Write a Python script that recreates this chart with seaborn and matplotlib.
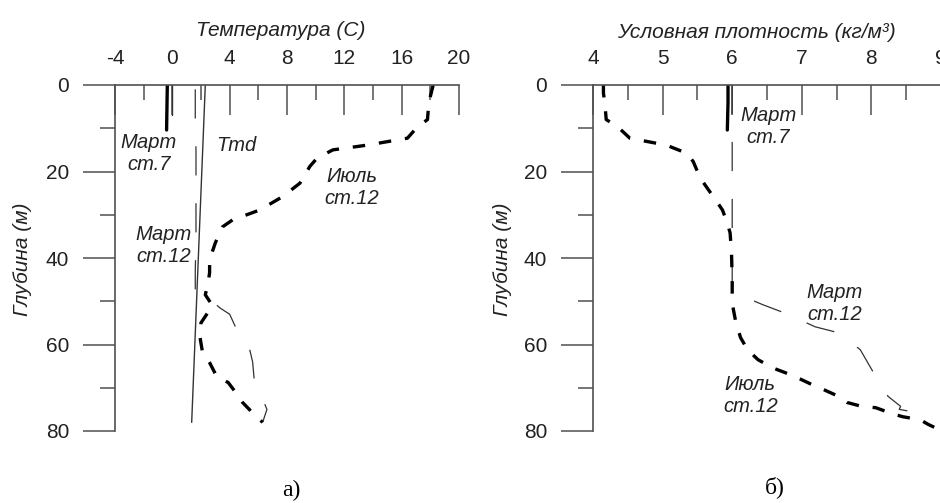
import numpy as np
import pandas as pd
import matplotlib
matplotlib.use("Agg")
import matplotlib.pyplot as plt
import seaborn as sns

# Left panel: temperature profiles (depth in m, temperature in C)
m7_depth = [0, 4, 10.4]
m7_temp = [-0.35, -0.37, -0.4]
m7b_depth = [0, 7]
m7b_temp = [0.0, 0.0]

m12_depth = [1, 8, 15, 22, 30, 36, 43, 47.6, 48.5, 50, 51.5, 53, 55.9, 58, 61.2, 64, 67.7, 71, 75, 78]
m12_temp = [1.6, 1.6, 1.65, 1.65, 1.65, 1.65, 1.6, 1.6, 2.2, 2.8, 3.3, 4.0, 4.4, 5.0, 5.4, 5.6, 5.7, 6.1, 6.6, 6.3]

jul_depth = [0, 4, 8, 9.7, 12.3, 13.9, 15, 16.9, 18.8, 22.7, 25.8, 28.9, 31.2, 32.8, 36.5, 40.4,
             43.4, 45.7, 48.5, 51, 55, 57.7, 61.7, 64.2, 67.4, 68.8, 71, 73.4, 75.8, 78]
jul_temp = [18.2, 17.9, 17.8, 17.1, 16.4, 13.6, 11.2, 10.1, 9.6, 8.9, 7.7, 6.1, 4.2, 3.5, 3.0, 2.6,
            2.6, 2.5, 2.3, 2.8, 2.0, 1.9, 2.1, 2.6, 3.1, 3.9, 4.4, 4.9, 5.6, 6.3]

tmd_depth = [0, 78]
tmd_temp = [2.3, 1.35]

# Right panel: conditional density profiles (kg/m3)
dm7_depth = [0, 4, 10.4]
dm7_sig = [5.94, 5.94, 5.93]

dm12_depth = [0, 7, 15, 22, 29, 34, 40, 45.7, 48.5, 50.8, 53, 55.9, 57.3, 61.2, 66.5, 72, 74.3, 75, 75.5, 77]
dm12_sig = [6.0, 6.0, 6.0, 6.0, 6.0, 6.0, 6.0, 6.0, 6.1, 6.44, 6.8, 7.19, 7.53, 7.84, 8.03, 8.24, 8.42, 8.4, 8.57, 8.7]

djul_depth = [0, 1.9, 4.2, 8, 9.6, 12.3, 13.5, 14.2, 15.8, 17.7, 21.5, 23.8, 27, 28.9, 31.9, 34.2, 38.8,
              45, 48, 51.3, 54.7, 58.4, 61.2, 63.5, 65.4, 66.5, 67.7, 69.3, 70.4, 72, 73.4, 74.4, 74.6,
              76, 76.7, 77.4, 78.5, 79.5]
djul_sig = [4.15, 4.15, 4.17, 4.19, 4.35, 4.53, 4.92, 5.1, 5.35, 5.44, 5.54, 5.64, 5.78, 5.86, 5.93, 5.97, 5.99,
            6.0, 6.0, 6.01, 6.05, 6.12, 6.22, 6.37, 6.58, 6.76, 6.94, 7.15, 7.31, 7.53, 7.65, 7.88, 8.06,
            8.3, 8.45, 8.7, 8.82, 8.95]

sns.set_theme(style="white")
plt.rcParams['font.family'] = ['Liberation Sans', 'DejaVu Sans']
plt.rcParams['lines.scale_dashes'] = False
plt.rcParams['axes.unicode_minus'] = False

W, H = 940, 503
fig = plt.figure(figsize=(W / 100, H / 100), dpi=100)
ax1 = fig.add_axes([115 / W, 1 - 431 / H, 344 / W, 346 / H])
ax2 = fig.add_axes([593 / W, 1 - 431 / H, 348 / W, 346 / H])

spine_col = '#505050'
lab_col = '#222222'


def style_axis(ax, xlim, major, minor):
    ax.set_xlim(*xlim)
    ax.set_ylim(80, 0)
    for s in ['right', 'bottom']:
        ax.spines[s].set_visible(False)
    for s in ['left', 'top']:
        ax.spines[s].set_color(spine_col)
        ax.spines[s].set_linewidth(1.2)
    ax.xaxis.tick_top()
    ax.set_xticks(major)
    ax.set_xticks(minor, minor=True)
    ax.set_yticks([0, 20, 40, 60, 80])
    ax.set_yticks([10, 30, 50, 70], minor=True)
    ax.tick_params(axis='x', which='major', direction='in', length=21.5, width=1.1,
                   color=spine_col, pad=12, top=True, bottom=False, labeltop=True, labelbottom=False)
    ax.tick_params(axis='x', which='minor', direction='in', length=10.8, width=1.1,
                   color=spine_col, top=True, bottom=False)
    ax.tick_params(axis='y', which='major', direction='out', length=23, width=1.1,
                   color=spine_col, pad=10, left=True)
    ax.tick_params(axis='y', which='minor', direction='out', length=10.8, width=1.1,
                   color=spine_col, left=True)
    for lbl in ax.get_xticklabels() + ax.get_yticklabels():
        lbl.set_fontsize(15)
        lbl.set_color(lab_col)
    ax.set_xlabel('')
    ax.set_ylabel('')
    ax.patch.set_alpha(0)


thick = dict(color='black', lw=2.4, linestyle=(0, (9, 10)), sort=False, estimator=None)
thin = dict(color='#333333', lw=0.9, linestyle=(0, (21, 20)), sort=False, estimator=None)

# left panel
sns.lineplot(x=m7_temp, y=m7_depth, color='black', lw=2.4, sort=False, estimator=None, ax=ax1)
sns.lineplot(x=m7b_temp, y=m7b_depth, color='#333333', lw=1.0, sort=False, estimator=None, ax=ax1)
sns.lineplot(x=m12_temp, y=m12_depth, ax=ax1, **thin)
sns.lineplot(x=jul_temp, y=jul_depth, ax=ax1, **thick)
sns.lineplot(x=tmd_temp, y=tmd_depth, color='#333333', lw=1.0, sort=False, estimator=None, ax=ax1)
style_axis(ax1, (-4, 20), list(range(-4, 21, 4)), list(range(-2, 20, 4)))

# right panel
sns.lineplot(x=dm7_sig, y=dm7_depth, color='black', lw=2.4, sort=False, estimator=None, ax=ax2)
sns.lineplot(x=dm12_sig, y=dm12_depth, ax=ax2, **thin)
sns.lineplot(x=djul_sig, y=djul_depth, ax=ax2, **thick)
style_axis(ax2, (4, 9), list(range(4, 10)), [4.5, 5.5, 6.5, 7.5, 8.5])

ann = dict(fontsize=14.5, style='italic', color=lab_col, ha='center', va='center', linespacing=1.2)
ax1.text(-1.63, 15.9, 'Март\nст.7', **ann)
ax1.text(4.44, 13.9, 'Tmd', **ann)
ax1.text(12.54, 23.8, 'Июль\nст.12', **ann)
ax1.text(-0.62, 37.0, 'Март\nст.12', **ann)
ax2.text(6.52, 9.7, 'Март\nст.7', **ann)
ax2.text(7.47, 50.6, 'Март\nст.12', **ann)
ax2.text(6.26, 71.8, 'Июль\nст.12', **ann)

title = dict(fontsize=15, style='italic', color=lab_col, ha='center', va='center')
fig.text(281 / W, 1 - 30 / H, 'Температура (С)', **title)
fig.text(756 / W, 1 - 32 / H, 'Условная плотность (кг/м³)', **title)
fig.text(23 / W, 1 - 259 / H, 'Глубина (м)', rotation=90, **title)
fig.text(503 / W, 1 - 259 / H, 'Глубина (м)', rotation=90, **title)

cap = dict(fontsize=17, family=['Liberation Serif', 'DejaVu Serif'], color='black', ha='center', va='center')
fig.text(291 / W, 1 - 490 / H, 'а)', **cap)
fig.text(775 / W, 1 - 487 / H, 'б)', **cap)

fig.savefig('out.png', dpi=100)
